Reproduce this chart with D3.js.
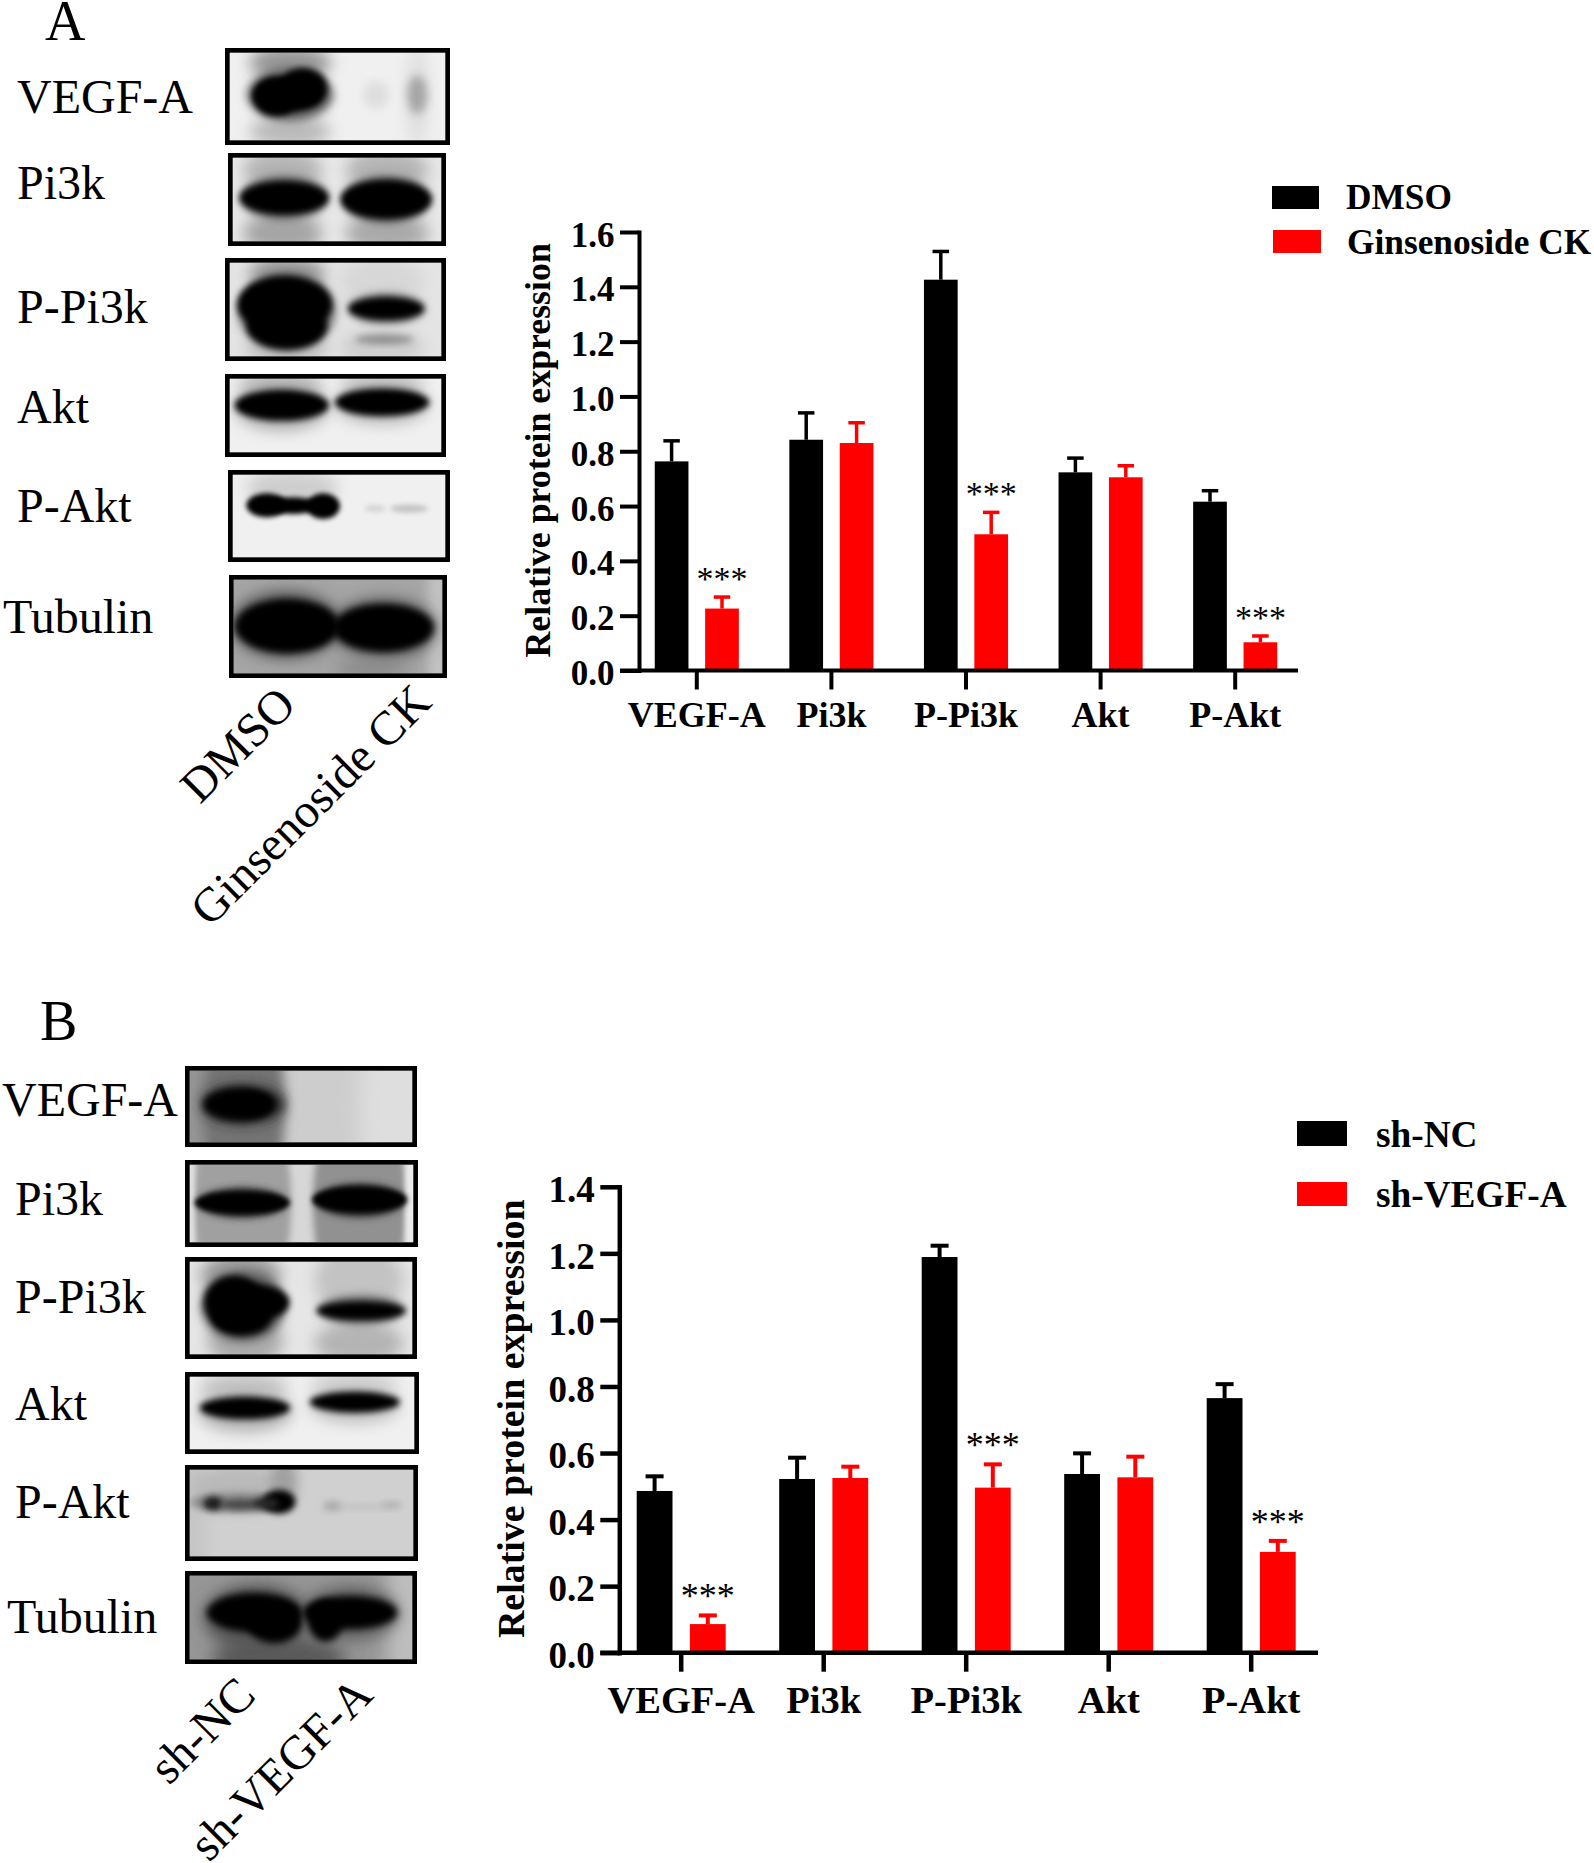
<!DOCTYPE html>
<html lang="en">
  <head>
    <meta charset="UTF-8" />
    <title>Relative protein expression</title>
    <script src="https://d3js.org/d3.v7.min.js"></script>
    <style>
      body { margin: 0; background: #fff; }
      text { font-family: "Liberation Serif", serif; fill: #000; }
    </style>
  </head>
  <body>
    <div id="chart"></div>
    <script>
      // values
      const categories = ["VEGF-A", "Pi3k", "P-Pi3k", "Akt", "P-Akt"];
      const stars = ["***", "", "***", "", "***"];

      const seriesA = ["DMSO", "Ginsenoside CK"];
      const dmso = [0.763, 0.842, 1.426, 0.723, 0.616];
      const dmsoTop = [0.838, 0.94, 1.529, 0.775, 0.656];
      const ck = [0.226, 0.83, 0.497, 0.705, 0.103];
      const ckTop = [0.268, 0.904, 0.577, 0.747, 0.126];
      const ticksA = [0, 0.2, 0.4, 0.6, 0.8, 1.0, 1.2, 1.4, 1.6];

      const seriesB = ["sh-NC", "sh-VEGF-A"];
      const shNc = [0.486, 0.522, 1.189, 0.537, 0.765];
      const shNcTop = [0.53, 0.586, 1.223, 0.599, 0.807];
      const shVegf = [0.086, 0.525, 0.496, 0.527, 0.303];
      const shVegfTop = [0.112, 0.559, 0.566, 0.589, 0.336];
      const ticksB = [0, 0.2, 0.4, 0.6, 0.8, 1.0, 1.2, 1.4];

      // blot bands: [cx%, cy%, rx%, ry%, grey level, blur]
      const blotA = [
        { label: "VEGF-A", bg: 240, blobs: [
          [28, 12, 19, 20, 150, 6], [28, 90, 19, 18, 185, 6],
          [87, 50, 5, 60, 222, 6],
          [68, 48, 6, 16, 222, 4], [87, 48, 4.5, 22, 165, 4],
          [28, 48, 20, 30, 90, 4],
          [21.5, 50, 9.5, 20, 0, 2.5], [34, 40, 10, 20, 0, 2.5], [27, 48, 14, 17, 0, 2.5] ] },
        { label: "Pi3k", bg: 232, blobs: [
          [24, 15, 19, 25, 180, 6], [24, 90, 19, 25, 165, 6],
          [74, 15, 20, 25, 180, 6], [74, 90, 20, 25, 170, 6],
          [24.7, 48, 21, 26, 100, 4], [73.6, 50, 21, 28, 100, 4],
          [24.7, 48, 19, 18, 0, 2.5], [73.6, 50, 19.5, 21, 0, 2.5] ] },
        { label: "P-Pi3k", bg: 228, blobs: [
          [27, 12, 18, 18, 150, 6], [27, 92, 20, 14, 190, 6],
          [72, 20, 20, 25, 215, 6], [72, 90, 20, 18, 205, 6],
          [27, 52, 23, 42, 110, 4],
          [26, 45, 20, 28, 0, 2.5], [27, 68, 17, 22, 0, 2.5],
          [74, 49, 18, 16, 120, 4], [74, 49, 16, 11, 0, 2.5],
          [73, 82, 14, 5, 140, 3] ] },
        { label: "Akt", bg: 240, blobs: [
          [24, 10, 20, 16, 175, 6], [72, 8, 20, 14, 185, 6],
          [24.6, 40, 22, 30, 170, 6], [72, 36, 22, 26, 185, 6],
          [24.6, 36, 20, 19, 0, 2.5], [72, 32, 20, 17, 0, 2.5] ] },
        { label: "P-Akt", bg: 240, blobs: [
          [28, 15, 22, 20, 205, 6],
          [16, 37, 8.6, 13, 0, 2], [28.5, 37.5, 11, 9, 0, 2], [42.6, 38, 7, 14, 0, 2],
          [67, 41, 5, 4, 210, 2], [83, 41, 9, 5, 195, 2] ] },
        { label: "Tubulin", bg: 165, blobs: [
          [98, 50, 5, 150, 195, 5], [25, 48, 26, 36, 85, 6], [72, 52, 25, 32, 85, 6],
          [66, 95, 18, 7, 130, 6],
          [25.7, 49.6, 22.4, 26, 0, 3], [71.7, 51.4, 21.6, 23, 0, 3] ] }
      ];

      const blotB = [
        { label: "VEGF-A", bg: 205, blobs: [
          [0, 50, 9, 150, 150, 5], [24, 50, 19, 150, 115, 5], [92, 50, 16, 150, 222, 8],
          [24, 47, 19, 28, 40, 5], [22, 47, 14, 20, 0, 3], [28, 47, 9, 15, 0, 3] ] },
        { label: "Pi3k", bg: 215, blobs: [
          [23.5, 50, 22, 150, 160, 3], [76, 50, 21, 150, 145, 3],
          [0, 50, 2, 150, 225, 2], [100, 50, 3.5, 150, 235, 2],
          [23.5, 49, 20, 20, 50, 3], [76, 46, 20, 22, 50, 3],
          [23.5, 49, 19, 13, 0, 2], [76, 45, 19, 15, 0, 2] ] },
        { label: "P-Pi3k", bg: 230, blobs: [
          [23, 15, 18, 24, 150, 6], [25, 85, 17, 28, 170, 6], [76, 20, 20, 40, 195, 6], [76, 88, 20, 24, 180, 6],
          [24, 48, 19, 38, 90, 4],
          [20, 44, 12, 26, 0, 2.5], [28, 44, 15, 18, 0, 2.5], [23.4, 60, 12, 18, 0, 2.5],
          [77, 52, 19, 15, 100, 4], [77, 53, 18, 9, 0, 2.5] ] },
        { label: "Akt", bg: 240, blobs: [
          [24, 15, 20, 20, 195, 6], [73, 12, 20, 16, 205, 6],
          [24.6, 48, 21, 28, 175, 6], [73.5, 40, 20, 24, 190, 6],
          [24.6, 43, 18, 14, 0, 2.5], [73.5, 35, 18, 13, 0, 2.5] ] },
        { label: "P-Akt", bg: 208, blobs: [
          [0, 50, 8, 150, 198, 6], [22, 20, 22, 25, 185, 6], [42, 15, 6, 30, 160, 5],
          [22, 38, 22, 12, 140, 3],
          [10.5, 39, 4.5, 8, 30, 2.5], [22.5, 40, 9, 6, 70, 2.5], [40, 37, 6.5, 12, 0, 2.5], [34, 39, 6, 7, 40, 2.5],
          [64, 42, 4.5, 6, 170, 3], [77, 43, 10, 3, 190, 3], [90, 41, 5, 4, 175, 3] ] },
        { label: "Tubulin", bg: 150, blobs: [
          [98, 50, 10, 150, 190, 8], [40, 100, 30, 30, 90, 7],
          [30, 50, 24, 40, 85, 6], [72, 45, 22, 32, 95, 6],
          [29, 44, 19, 21, 0, 3], [38, 56, 11, 22, 0, 3],
          [72, 44, 19, 18, 0, 3], [61, 54, 7, 22, 0, 3] ] }
      ];

      // panel layouts
      const boxesA = [
        [225, 48, 450, 145, 17, 113], [228, 153, 446, 246, 17, 199], [225, 258, 446, 361, 17, 323],
        [225, 374, 446, 457, 17, 423], [228, 470, 450, 562, 17, 522], [229, 575, 447, 678, 3, 633]
      ];
      const boxesB = [
        [185, 1066, 417, 1147, 2, 1116], [185, 1160, 418, 1247, 15, 1215], [185, 1257, 417, 1359, 15, 1313],
        [185, 1372, 419, 1454, 15, 1420], [185, 1465, 418, 1561, 15, 1518], [185, 1571, 417, 1664, 7, 1633]
      ];

      const width = 1594;
      const height = 1863;
      const svg = d3
        .select("#chart")
        .append("svg")
        .attr("width", width)
        .attr("height", height)
        .style("display", "block");
      const defs = svg.append("defs");

      [2, 2.5, 3, 4, 5, 6, 7, 8].forEach(function (s) {
        defs
          .append("filter")
          .attr("id", "blur" + String(s).replace(".", "_"))
          .attr("x", "-50%")
          .attr("y", "-50%")
          .attr("width", "200%")
          .attr("height", "200%")
          .append("feGaussianBlur")
          .attr("stdDeviation", s * 1.2);
      });

      function grey(v) {
        return d3.rgb(v, v, v).formatHex();
      }

      function drawBlots(name, blots, boxes) {
        const stroke = 4.7;
        blots.forEach(function (blot, i) {
          const b = boxes[i];
          const xs = d3.scaleLinear().domain([0, 100]).range([b[0] + stroke, b[2] - stroke]);
          const ys = d3.scaleLinear().domain([0, 100]).range([b[1] + stroke, b[3] - stroke]);
          const clipId = "clip" + name + i;
          defs
            .append("clipPath")
            .attr("id", clipId)
            .append("rect")
            .attr("x", xs(0))
            .attr("y", ys(0))
            .attr("width", xs(100) - xs(0))
            .attr("height", ys(100) - ys(0));

          // the black cores come out thin once blurred, so grow them a bit
          const grow = (d) => (d[4] < 20 ? 1.12 : 1);
          const g = svg.append("g").attr("clip-path", "url(#" + clipId + ")");
          g.append("rect")
            .attr("x", xs(0))
            .attr("y", ys(0))
            .attr("width", xs(100) - xs(0))
            .attr("height", ys(100) - ys(0))
            .attr("fill", grey(blot.bg));
          g.selectAll("ellipse")
            .data(blot.blobs)
            .enter()
            .append("ellipse")
            .attr("cx", (d) => xs(d[0]))
            .attr("cy", (d) => ys(d[1]))
            .attr("rx", (d) => (xs(d[2]) - xs(0)) * grow(d))
            .attr("ry", (d) => (ys(d[3]) - ys(0)) * grow(d))
            .attr("fill", (d) => grey(d[4]))
            .attr("filter", (d) => "url(#blur" + String(d[5]).replace(".", "_") + ")");

          svg
            .append("rect")
            .attr("x", b[0] + stroke / 2)
            .attr("y", b[1] + stroke / 2)
            .attr("width", b[2] - b[0] - stroke)
            .attr("height", b[3] - b[1] - stroke)
            .attr("fill", "none")
            .attr("stroke", "#000")
            .attr("stroke-width", stroke);

          svg
            .append("text")
            .attr("x", b[4])
            .attr("y", b[5])
            .attr("font-size", 48)
            .text(blot.label);
        });
      }

      function slanted(label, x, y) {
        svg
          .append("text")
          .attr("transform", "translate(" + x + "," + y + ") rotate(-45)")
          .attr("font-size", 48)
          .text(label);
      }

      function drawBars(cfg) {
        const g = svg.append("g").attr("font-weight", "bold");
        const y = d3.scaleLinear().domain(cfg.domain).range([cfg.y0, cfg.y1]);
        const x = d3
          .scaleBand()
          .domain(categories)
          .range([cfg.firstTick - cfg.step / 2, cfg.firstTick + cfg.step * 4.5]);
        const pad = 1 - cfg.barW / cfg.inner;
        const inner = d3
          .scaleBand()
          .domain(cfg.series)
          .range([-cfg.inner * (2 - pad) / 2, cfg.inner * (2 - pad) / 2])
          .paddingInner(pad);

        // bars
        cfg.series.forEach(function (name, s) {
          const col = cfg.colors[s];
          const rows = categories.map(function (c, i) {
            return { c: c, v: cfg.values[s][i], top: cfg.tops[s][i], star: s == 1 ? stars[i] : "" };
          });
          const cx = (d) => x(d.c) + x.bandwidth() / 2 + inner(name) + inner.bandwidth() / 2;

          g.selectAll(".bar" + s)
            .data(rows)
            .enter()
            .append("rect")
            .attr("class", "bar" + s)
            .attr("x", (d) => cx(d) - inner.bandwidth() / 2)
            .attr("y", (d) => y(d.v))
            .attr("width", inner.bandwidth())
            .attr("height", (d) => y(0) - y(d.v))
            .attr("fill", col);

          g.selectAll(".err" + s)
            .data(rows)
            .enter()
            .append("line")
            .attr("class", "err" + s)
            .attr("x1", cx)
            .attr("x2", cx)
            .attr("y1", (d) => y(d.v))
            .attr("y2", (d) => y(d.top))
            .attr("stroke", col)
            .attr("stroke-width", cfg.errW);

          g.selectAll(".cap" + s)
            .data(rows)
            .enter()
            .append("line")
            .attr("class", "cap" + s)
            .attr("x1", (d) => cx(d) - cfg.capW / 2)
            .attr("x2", (d) => cx(d) + cfg.capW / 2)
            .attr("y1", (d) => y(d.top))
            .attr("y2", (d) => y(d.top))
            .attr("stroke", col)
            .attr("stroke-width", cfg.errW);

          g.selectAll(".star" + s)
            .data(rows.filter((d) => d.star))
            .enter()
            .append("text")
            .attr("class", "star" + s)
            .attr("x", cx)
            .attr("y", (d) => y(d.top) - 7)
            .attr("text-anchor", "middle")
            .attr("font-weight", "normal")
            .attr("font-size", cfg.starSize)
            .text((d) => d.star);
        });

        // axes
        const yAxis = g
          .append("g")
          .attr("transform", "translate(" + cfg.axisX + ",0)")
          .call(
            d3
              .axisLeft(y)
              .tickValues(cfg.ticks)
              .tickFormat(d3.format(".1f"))
              .tickSize(19)
              .tickSizeOuter(0)
              .tickPadding(5.5)
          );
        yAxis.select(".domain").attr("stroke-width", cfg.axisW).attr("stroke-linecap", "square");
        yAxis.selectAll(".tick line").attr("stroke-width", cfg.axisW);
        yAxis
          .selectAll(".tick text")
          .attr("dy", "0.4em")
          .attr("font-family", "Liberation Serif")
          .attr("font-size", cfg.tickSize);

        const xAxis = g
          .append("g")
          .attr("transform", "translate(0," + y(0) + ")")
          .call(d3.axisBottom(x).tickSize(19).tickSizeOuter(0));
        xAxis.select(".domain").remove();
        xAxis.selectAll(".tick line").attr("stroke-width", cfg.axisW);
        xAxis
          .selectAll(".tick text")
          .attr("y", cfg.catY - y(0))
          .attr("dy", 0)
          .attr("font-family", "Liberation Serif")
          .attr("font-size", cfg.catSize);
        xAxis
          .append("line")
          .attr("x1", cfg.axisX - 19)
          .attr("x2", cfg.axisEnd)
          .attr("stroke", "#000")
          .attr("stroke-width", cfg.axisW);

        g.append("text")
          .attr("transform", "translate(" + cfg.titleX + "," + cfg.titleY + ") rotate(-90)")
          .attr("font-size", cfg.titleSize)
          .text("Relative protein expression");

        // legend
        cfg.series.forEach(function (name, s) {
          const l = cfg.legend[s];
          g.append("rect")
            .attr("x", l[0])
            .attr("y", l[1])
            .attr("width", l[2])
            .attr("height", l[3])
            .attr("fill", cfg.colors[s]);
          g.append("text")
            .attr("x", l[4])
            .attr("y", l[5])
            .attr("font-size", cfg.legendSize)
            .text(name);
        });
      }

      svg.append("text").attr("x", 45).attr("y", 40).attr("font-size", 56).text("A");
      svg.append("text").attr("x", 40).attr("y", 1040).attr("font-size", 56).text("B");

      drawBlots("A", blotA, boxesA);
      drawBlots("B", blotB, boxesB);
      slanted("DMSO", 200, 805);
      slanted("Ginsenoside CK", 210, 928);
      slanted("sh-NC", 169, 1786);
      slanted("sh-VEGF-A", 209, 1863);

      drawBars({
        series: seriesA,
        values: [dmso, ck],
        tops: [dmsoTop, ckTop],
        ticks: ticksA,
        colors: ["#000", "#f00"],
        domain: [0, 1.6],
        y0: 670.5,
        y1: 232,
        axisX: 639,
        axisEnd: 1298,
        firstTick: 696.8,
        step: 134.6,
        inner: 50.4,
        barW: 33.7,
        capW: 16.5,
        errW: 3.5,
        axisW: 4,
        starSize: 34,
        tickSize: 35,
        catSize: 36,
        catY: 727,
        titleX: 549.5,
        titleY: 657.5,
        titleSize: 35.8,
        legend: [
          [1272, 186, 47, 23, 1346, 209],
          [1273, 230, 48, 23, 1347, 254]
        ],
        legendSize: 35.3
      });

      drawBars({
        series: seriesB,
        values: [shNc, shVegf],
        tops: [shNcTop, shVegfTop],
        ticks: ticksB,
        colors: ["#000", "#f00"],
        domain: [0, 1.4],
        y0: 1652.7,
        y1: 1186.8,
        axisX: 619.3,
        axisEnd: 1318,
        firstTick: 681.2,
        step: 142.5,
        inner: 53.2,
        barW: 35.8,
        capW: 18,
        errW: 4,
        axisW: 4.5,
        starSize: 36,
        tickSize: 37,
        catSize: 38.5,
        catY: 1713,
        titleX: 524,
        titleY: 1638,
        titleSize: 37.9,
        legend: [
          [1297, 1121, 50, 25, 1376, 1147],
          [1297, 1182, 50, 24, 1376, 1207]
        ],
        legendSize: 37.3
      });
    </script>
  </body>
</html>
